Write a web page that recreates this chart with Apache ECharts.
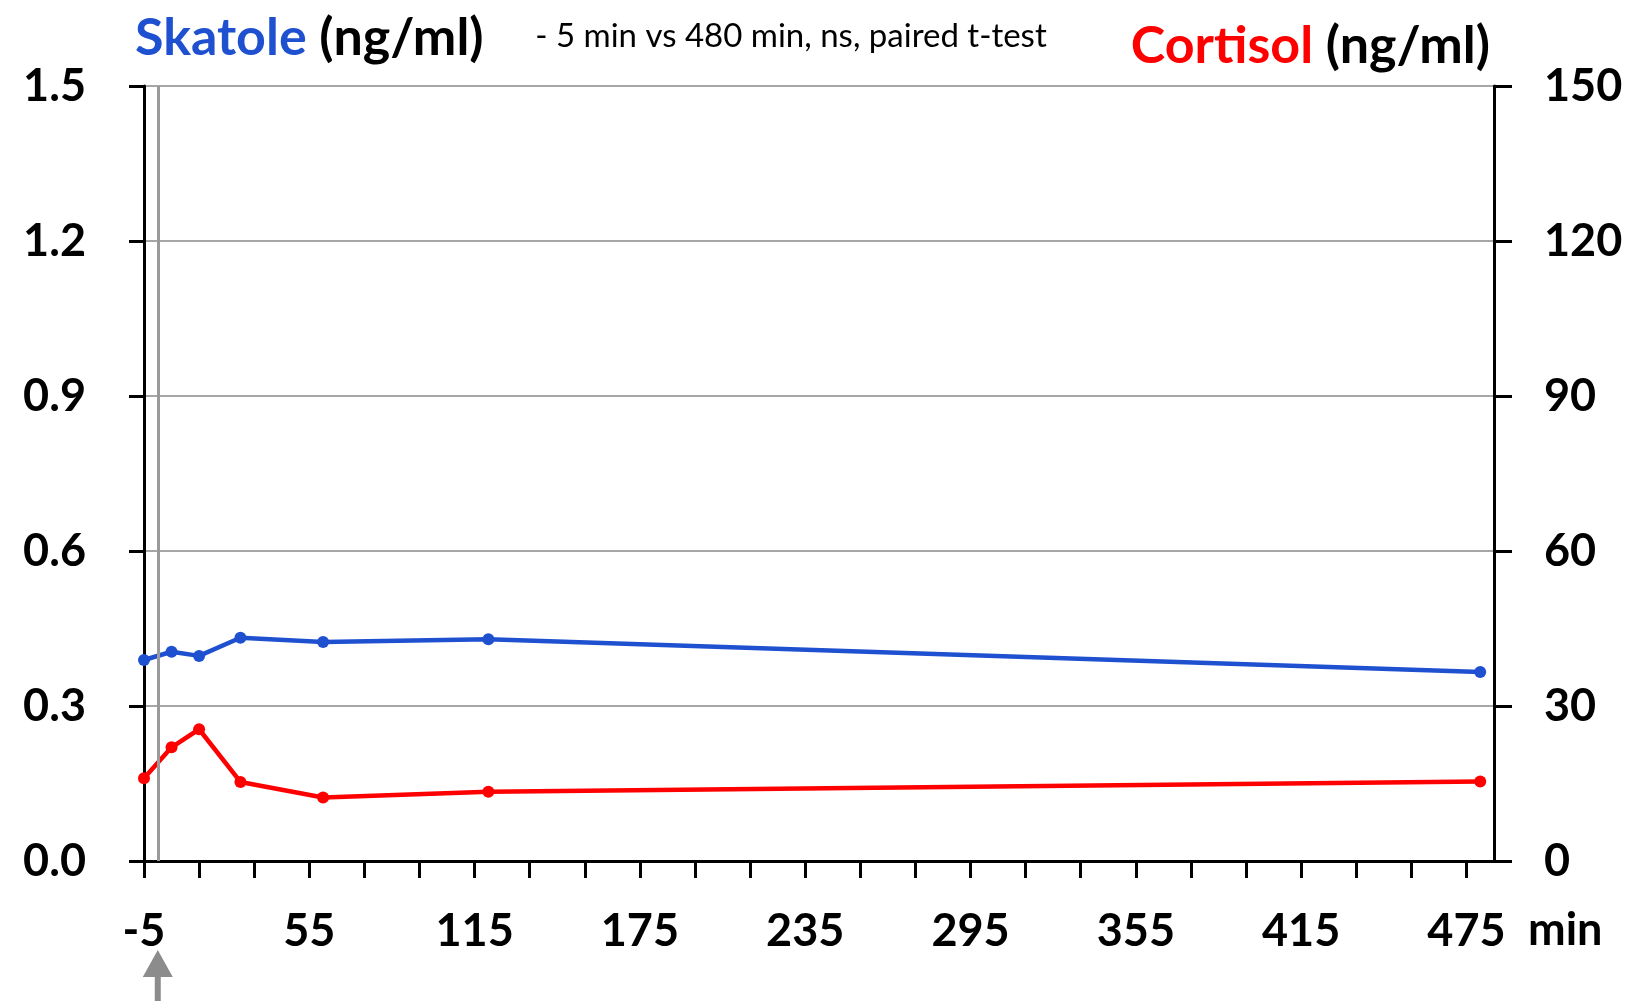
<!DOCTYPE html>
<html>
<head>
<meta charset="utf-8">
<title>Skatole / Cortisol</title>
<script src="https://cdn.jsdelivr.net/npm/echarts@6/dist/echarts.min.js"></script>
<style>
  html, body { margin: 0; padding: 0; background: #fff; }
  #main { width: 1631px; height: 1001px; }
</style>
</head>
<body>
<div id="main"></div>
<script>
// sampling times (min)
var times = [-5, 5, 15, 30, 60, 120, 480];
// skatole, ng/ml (left axis)
var skatole = [0.389, 0.405, 0.397, 0.432, 0.424, 0.429, 0.366];
// cortisol, ng/ml (right axis)
var cortisol = [16.0, 22.0, 25.5, 15.3, 12.3, 13.4, 15.4];
// x axis: ticks every 20 min, labels every 60 min
var xTicks = [];
for (var t = -5; t <= 475; t += 20) xTicks.push(t);
var xLabels = [-5, 55, 115, 175, 235, 295, 355, 415, 475];
// time of treatment (gray line + arrow)
var treatTime = [0];

var FONT = 'Lato, "Open Sans", sans-serif';
var BLUE = '#1e50d0';
var RED = '#ff0000';

function pairs(ys) {
    return times.map(function (x, i) { return [x, ys[i]]; });
}

var chart = echarts.init(document.getElementById('main'));

var option = {
    animation: false,
    backgroundColor: '#fff',
    grid: { left: 144, right: 137, top: 86, bottom: 140 },
    xAxis: {
        type: 'value',
        min: -5,
        max: 485,
        splitLine: { show: false },
        axisLine: { onZero: false, lineStyle: { color: '#000', width: 3 } },
        axisTick: { customValues: xTicks, length: 17, lineStyle: { color: '#000', width: 3 } },
        axisLabel: {
            customValues: xLabels,
            margin: 48,
            color: '#000',
            fontFamily: FONT,
            fontWeight: 'bold',
            fontSize: 45
        }
    },
    yAxis: [
        {
            type: 'value',
            min: 0,
            max: 1.5,
            interval: 0.3,
            position: 'left',
            axisLine: { show: true, onZero: false, lineStyle: { color: '#000', width: 3 } },
            axisTick: { show: true, length: 15, lineStyle: { color: '#000', width: 3 } },
            splitLine: { show: true, lineStyle: { color: '#a6a6a6', width: 2 } },
            axisLabel: {
                margin: 58,
                color: '#000',
                fontFamily: FONT,
                fontWeight: 'bold',
                fontSize: 45,
                formatter: function (v) { return v.toFixed(1); }
            }
        },
        {
            type: 'value',
            min: 0,
            max: 150,
            interval: 30,
            position: 'right',
            axisLine: { show: true, onZero: false, lineStyle: { color: '#000', width: 3 } },
            axisTick: { show: true, length: 18, lineStyle: { color: '#000', width: 3 } },
            splitLine: { show: false },
            axisLabel: {
                margin: 50,
                color: '#000',
                fontFamily: FONT,
                fontWeight: 'bold',
                fontSize: 45
            }
        }
    ],
    series: [
        {
            name: 'Skatole',
            type: 'line',
            yAxisIndex: 0,
            data: pairs(skatole),
            symbol: 'circle',
            symbolSize: 12,
            lineStyle: { color: BLUE, width: 4.5 },
            itemStyle: { color: BLUE },
            z: 3,
            markLine: {
                silent: true,
                symbol: 'none',
                label: { show: false },
                lineStyle: { color: '#9a9a9a', width: 3, type: 'solid' },
                data: treatTime.map(function (x) { return { xAxis: x }; })
            }
        },
        {
            name: 'Cortisol',
            type: 'line',
            yAxisIndex: 1,
            data: pairs(cortisol),
            symbol: 'circle',
            symbolSize: 12,
            lineStyle: { color: RED, width: 4.5 },
            itemStyle: { color: RED },
            z: 3
        }
    ]
};
chart.setOption(option);

// titles, note, unit label and the treatment arrow
var arrowX = chart.convertToPixel({ xAxisIndex: 0 }, treatTime[0]);
chart.setOption({
    graphic: [
        {
            type: 'text', left: 135, top: 12,
            style: {
                text: '{b|Skatole}{k|\u00a0(ng/ml)}',
                rich: {
                    b: { fill: BLUE, font: 'bold 52px ' + FONT },
                    k: { fill: '#000', font: 'bold 52px ' + FONT }
                }
            }
        },
        {
            type: 'text', x: 791, y: 36,
            style: {
                text: '- 5 min vs 480 min, ns, paired t-test',
                fill: '#000',
                font: '33px ' + FONT,
                align: 'center',
                verticalAlign: 'middle'
            }
        },
        {
            type: 'text', right: 141, top: 20,
            style: {
                text: '{r|Cortisol}{k|\u00a0(ng/ml)}',
                rich: {
                    r: { fill: RED, font: 'bold 52px ' + FONT },
                    k: { fill: '#000', font: 'bold 52px ' + FONT }
                }
            }
        },
        {
            type: 'text', left: 1528, top: 908,
            style: { text: 'min', fill: '#000', font: 'bold 45px ' + FONT }
        },
        {
            type: 'group', x: arrowX, y: 950,
            children: [
                { type: 'polygon', shape: { points: [[0, 0], [-15, 27], [15, 27]] }, style: { fill: '#8c8c8c' } },
                { type: 'rect', shape: { x: -3, y: 26, width: 6, height: 30 }, style: { fill: '#8c8c8c' } }
            ]
        }
    ]
});
</script>
</body>
</html>
